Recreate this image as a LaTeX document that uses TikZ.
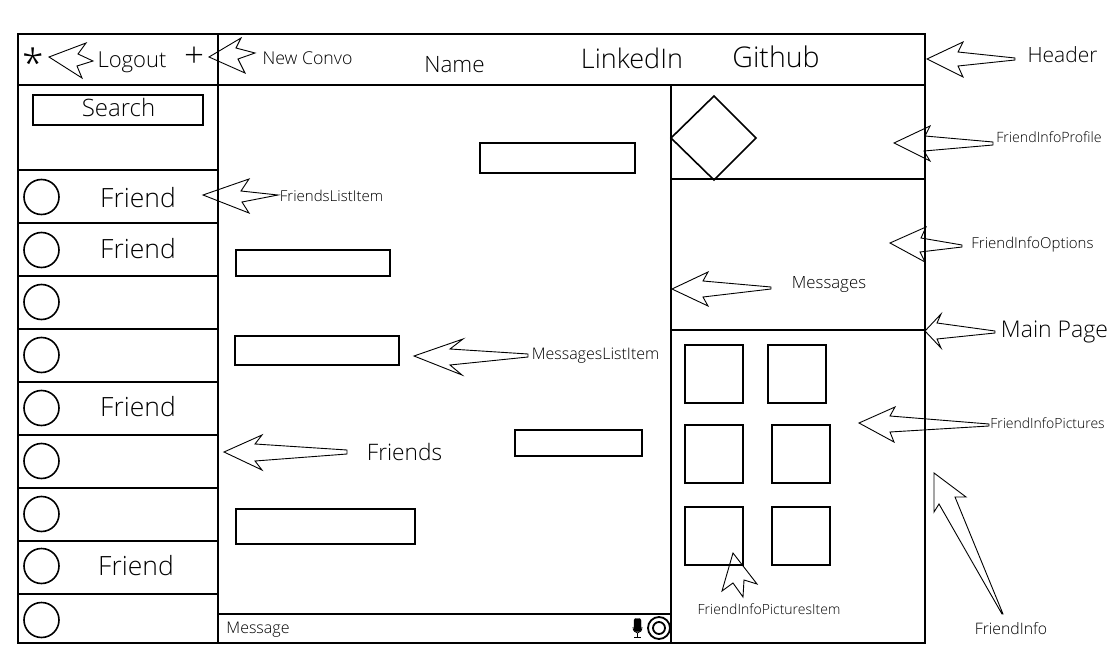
\documentclass[tikz,border=0pt]{standalone}
\usepackage{fontspec}
\setmainfont{Open Sans Light}
\tikzset{
  frameline/.style={line width=2pt},
  pointer/.style={line width=0.9pt},
  sized/.style={font=\fontsize{#1}{#1}\selectfont}
}
\begin{document}
\begin{tikzpicture}[x=1pt,y=-1pt]
  \useasboundingbox (0,0) rectangle (1120,669);
  % page outline
  \draw[frameline] (18,34) rectangle (925,643);
  \draw[frameline] (18,85) -- (925,85);
  \draw[frameline] (218,34) -- (218,643);
  \draw[frameline] (671,85) -- (671,643);
  \draw[frameline] (671,179) -- (925,179);
  \draw[frameline] (671,330) -- (925,330);
  \draw[frameline] (218,614) -- (671,614);
  % friends list
  \draw[frameline] (33,95) rectangle (203,125);
  \foreach \y in {170,223,276,329,382,435,488,541,594}
    \draw[frameline] (18,\y) -- (218,\y);
  \foreach \y in {197,250,302,355,408,461,514,566,620}
    \draw[line width=1.6pt] (41.5,\y) circle (17.5);
  % message bubbles
  \draw[frameline] (480,143) rectangle (635,173);
  \draw[frameline] (236,250) rectangle (390,276);
  \draw[frameline] (235,336) rectangle (399,365);
  \draw[frameline] (515,430) rectangle (642,456);
  \draw[frameline] (236,509) rectangle (415,544);
  % profile picture and picture items
  \draw[line width=1.6pt] (671,138) -- (714,96) -- (756,138) -- (714,180) -- cycle;
  \draw[frameline] (685,345) rectangle (743,403);
  \draw[frameline] (768,345) rectangle (826,403);
  \draw[frameline] (685,425) rectangle (743,483);
  \draw[frameline] (772,425) rectangle (830,483);
  \draw[frameline] (685,507) rectangle (743,565);
  \draw[frameline] (772,507) rectangle (830,565);
  % mic and record button
  \draw[fill=black,rounded corners=2pt] (634,618.5) rectangle (641,631.5);
  \draw[line width=0.8pt] (633,627) arc[start angle=180,end angle=360,x radius=4.5,y radius=-6];
  \draw[line width=0.8pt] (637.5,633) -- (637.5,637) (634,637) -- (641,637);
  \draw[line width=1.8pt] (659,628) circle (11);
  \draw[line width=1.8pt] (659,628) circle (6);
  % pointers
  \draw[pointer] (49,57) -- (86,43) -- (78,54) -- (93,61) -- (77,66) -- (82,78) -- cycle;
  \draw[pointer] (209,57) -- (241,38) -- (236,48) -- (255,53) -- (238,59) -- (245,73) -- cycle;
  \draw[pointer] (203,195) -- (249,179) -- (241,191) -- (278,195) -- (242,202) -- (249,213) -- cycle;
  \draw[pointer] (927,59) -- (963,42) -- (958,52) -- (1015,58) -- (1015,60) -- (958,66) -- (963,77) -- cycle;
  \draw[pointer] (894,143) -- (930,126) -- (925,136) -- (993,142) -- (993,145) -- (924,151) -- (930,161) -- cycle;
  \draw[pointer] (890,243) -- (926,227) -- (921,238) -- (962,245) -- (962,247) -- (920,252) -- (925,262) -- cycle;
  \draw[pointer] (672,289) -- (708,272) -- (703,281) -- (771,287) -- (771,289) -- (703,297) -- (708,306) -- cycle;
  \draw[pointer] (925,331) -- (941,314) -- (937,323) -- (995,331) -- (995,333) -- (937,339) -- (941,348) -- cycle;
  \draw[pointer] (859,423) -- (895,407) -- (890,416) -- (989,424) -- (989,426) -- (890,432) -- (894,442) -- cycle;
  \draw[pointer] (934,473) -- (966,497) -- (955,497) -- (1003,614) -- (1002,614) -- (939,504) -- (934,512) -- cycle;
  \draw[pointer] (733,553) -- (757,584) -- (744,580) -- (743,597) -- (733,583) -- (722,591) -- cycle;
  \draw[pointer] (414,356) -- (463,339) -- (450,349) -- (528,354) -- (528,357) -- (450,365) -- (462,375) -- cycle;
  \draw[pointer] (224,452) -- (262,435) -- (255,444) -- (347,450) -- (347,454) -- (255,461) -- (262,470) -- cycle;
  % header texts
  \node[sized=39] (star) at (33,63) {*};
  \node[sized=22] (logout) at (132,62) {Logout};
  \node[sized=35] (plus) at (194,57) {+};
  \node[sized=17.7] (newconvo) at (307.5,58) {New Convo};
  \node[sized=22.5] (name) at (454.5,65) {Name};
  \node[sized=27] (linkedin) at (632,58) {LinkedIn};
  \node[sized=28.5] (github) at (776,57) {Github};
  % friends texts
  \node[sized=24] (search) at (118.5,108) {Search};
  \node[sized=26.5] (friendone) at (138,198) {Friend};
  \node[sized=26.5] (friendtwo) at (138,249) {Friend};
  \node[sized=26.5] (friendfive) at (138,407) {Friend};
  \node[sized=26.5] (friendeight) at (136,566) {Friend};
  \node[sized=16] (message) at (258,629.5) {Message};
  % annotations
  \node[sized=21] (headerlabel) at (1062.5,55) {Header};
  \node[sized=14.2] (profilelabel) at (1049,137) {FriendInfoProfile};
  \node[sized=15] (optionslabel) at (1032.5,244.5) {FriendInfoOptions};
  \node[sized=16.8] (messageslabel) at (829,285) {Messages};
  \node[sized=23] (mainlabel) at (1054.5,332) {Main Page};
  \node[sized=16] (itemlabel) at (595.5,356) {MessagesListItem};
  \node[sized=22.7] (friendslabel) at (404.5,452) {Friends};
  \node[sized=14] (pictureslabel) at (1047.5,423) {FriendInfoPictures};
  \node[sized=14] (picitemlabel) at (769,609) {FriendInfoPicturesItem};
  \node[sized=15.8] (infolabel) at (1011,629) {FriendInfo};
  \node[sized=15] (listlabel) at (331.5,196) {FriendsListItem};
\end{tikzpicture}
\end{document}
